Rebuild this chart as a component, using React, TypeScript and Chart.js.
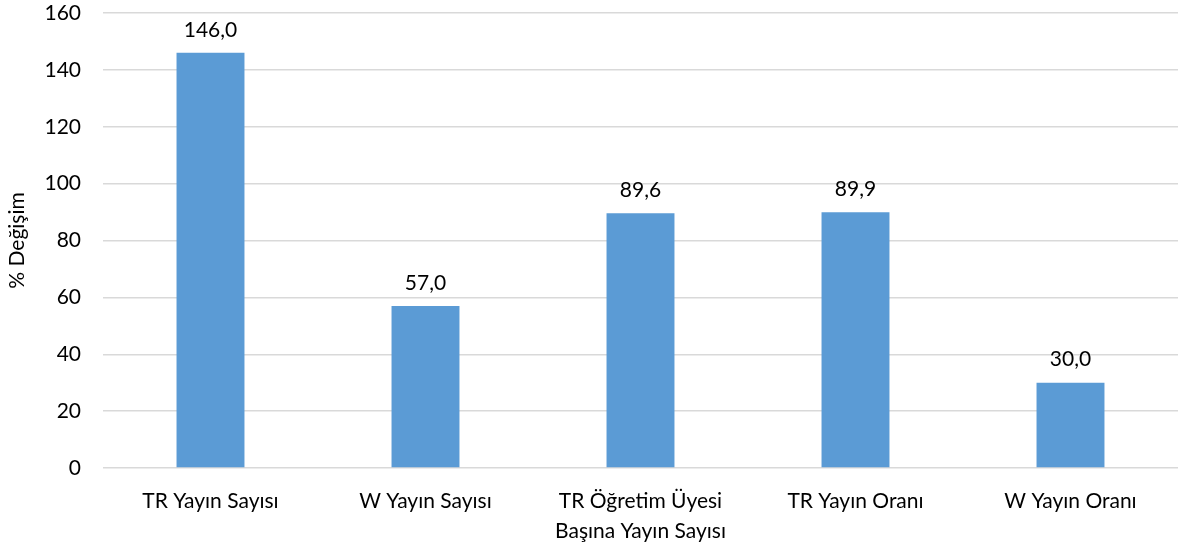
import React, { useEffect, useRef } from "react";
import { Chart, registerables } from "chart.js";

Chart.register(...registerables);

const categories: (string | string[])[] = [
  "TR Yayın Sayısı",
  "W Yayın Sayısı",
  ["TR Öğretim Üyesi", "Başına Yayın Sayısı"],
  "TR Yayın Oranı",
  "W Yayın Oranı",
];
const values = [146.0, 57.0, 89.6, 89.9, 30.0];
const yTicks = { min: 0, max: 160, step: 20 };
const yTitle = "% Değişim";

const FONT = "Lato, 'Open Sans', sans-serif";
const FS = 21;

const labelPlugin = {
  id: "barLabels",
  afterDatasetsDraw(chart: any) {
    const ctx = chart.ctx;
    const meta = chart.getDatasetMeta(0);
    ctx.save();
    ctx.font = `${FS}px ${FONT}`;
    ctx.fillStyle = "#000";
    ctx.textAlign = "center";
    ctx.textBaseline = "middle";
    meta.data.forEach((bar: any, i: number) => {
      const v = values[i];
      ctx.fillText(v.toFixed(1).replace(".", ","), bar.x, bar.y - 23);
    });
    ctx.restore();
  },
};

export default function App() {
  const ref = useRef<HTMLCanvasElement>(null);
  useEffect(() => {
    if (!ref.current) return;
    const chart = new Chart(ref.current, {
      type: "bar",
      data: {
        labels: categories,
        datasets: [
          {
            data: values,
            backgroundColor: "#5B9BD5",
            borderWidth: 0,
            categoryPercentage: 1,
            barPercentage: 0.316,
          },
        ],
      },
      options: {
        animation: false,
        responsive: false,
        maintainAspectRatio: false,
        layout: { padding: { top: 13, right: 6, left: 0, bottom: 0 } },
        plugins: { legend: { display: false }, tooltip: { enabled: false } },
        scales: {
          x: {
            grid: { display: false },
            border: { display: false },
            ticks: {
              color: "#000",
              font: { family: FONT, size: FS, lineHeight: 1.43 },
              padding: 10,
              maxRotation: 0,
              autoSkip: false,
            },
            afterFit(scale: any) {
              scale.height = 82;
              scale.paddingLeft = 0;
              scale.paddingRight = 0;
            },
          },
          y: {
            min: yTicks.min,
            max: yTicks.max,
            ticks: {
              stepSize: yTicks.step,
              color: "#000",
              font: { family: FONT, size: FS },
              padding: 22,
            },
            grid: { color: "#d9d9d9", lineWidth: 1.5, drawTicks: false },
            border: { display: false },
            title: {
              display: true,
              text: yTitle,
              color: "#000",
              font: { family: FONT, size: FS },
              padding: { top: 5, bottom: 0 },
            },
            afterFit(scale: any) {
              scale.width = 103;
              scale.paddingTop = 0;
              scale.paddingBottom = 0;
            },
          },
        },
      },
      plugins: [labelPlugin],
    });
    return () => chart.destroy();
  }, []);
  return (
    <div style={{ position: "fixed", left: 0, top: 0, width: 1184, height: 550, background: "#fff" }}>
      <canvas ref={ref} width={1184} height={550} />
    </div>
  );
}
